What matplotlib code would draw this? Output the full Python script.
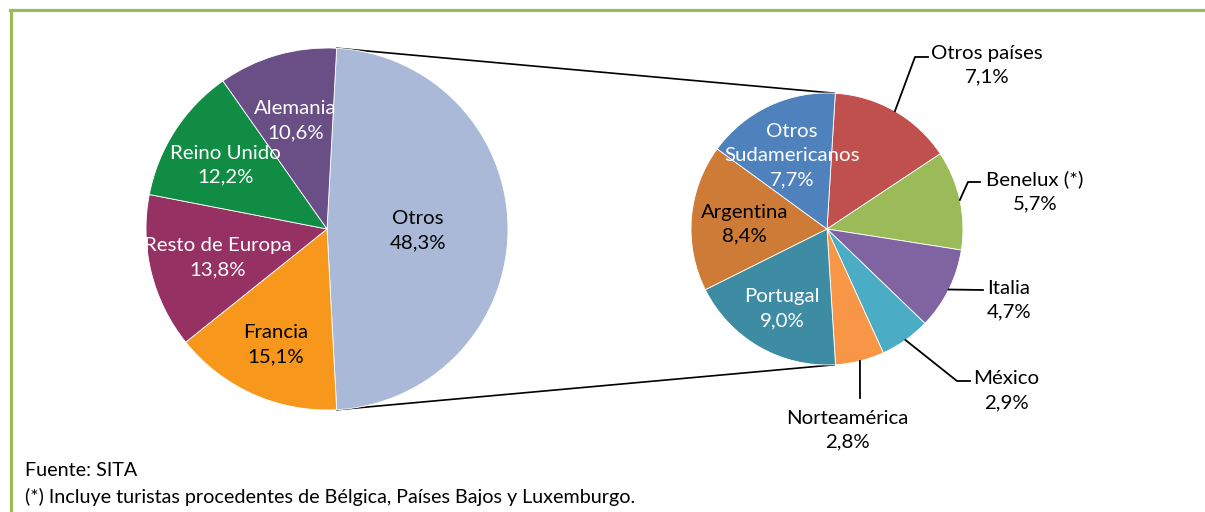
import numpy as np
import matplotlib.pyplot as plt
from matplotlib.lines import Line2D

plt.rcParams['font.family'] = ['Lato', 'DejaVu Sans']

# Left pie: total
left_labels = ['Otros', 'Francia', 'Resto de Europa', 'Reino Unido', 'Alemania']
left_values = [48.3, 15.1, 13.8, 12.2, 10.6]
left_colors = ['#A9B9D7', '#F7981D', '#953163', '#118C44', '#6A4F87']
left_text = ['black', 'black', 'white', 'white', 'white']

# Right pie: breakdown of "Otros"
right_labels = ['Otros países', 'Benelux (*)', 'Italia', 'México', 'Norteamérica',
                'Portugal', 'Argentina', 'Otros\nSudamericanos']
right_values = [7.1, 5.7, 4.7, 2.9, 2.8, 9.0, 8.4, 7.7]
right_colors = ['#C0504D', '#9BBB59', '#8064A2', '#4BACC6', '#F79646',
                '#3E8BA4', '#CD7B37', '#4F81BD']

W, H = 1205, 512
FS = 14.7
LS = 1.5


def pct(v):
    return f'{v:.1f}'.replace('.', ',') + '%'


def py(y):
    # pixel row (from top) -> data y
    return H - y


fig = plt.figure(figsize=(W / 100, H / 100), dpi=100)
ax = fig.add_axes([0, 0, 1, 1])

lc, lr = (327, py(229)), 181
rc, rr = (827, py(229)), 136
wp = dict(edgecolor='white', linewidth=0.6)

wl, _ = ax.pie(left_values, colors=left_colors, startangle=86.94, counterclock=False,
               center=lc, radius=lr, wedgeprops=wp)
wr, _ = ax.pie(right_values, colors=right_colors, startangle=86.5, counterclock=False,
               center=rc, radius=rr, wedgeprops=wp)

ax.set_xlim(0, W)
ax.set_ylim(0, H)
ax.set_aspect('equal')
ax.axis('off')


def point(c, r, ang):
    a = np.deg2rad(ang)
    return c[0] + r * np.cos(a), c[1] + r * np.sin(a)


# inside labels on the left pie
left_frac = [0.50, 0.69, 0.62, 0.67, 0.635]
for w, lab, v, col, f in zip(wl, left_labels, left_values, left_text, left_frac):
    mid = (w.theta1 + w.theta2) / 2
    x, y = point(lc, lr * f, mid)
    ax.text(x, y - 2, f'{lab}\n{pct(v)}', ha='center', va='center', color=col,
            fontsize=FS, linespacing=LS)

# connector lines between the pies
t_top, t_bot = wl[0].theta2, wl[0].theta1
for t in (t_top, t_bot):
    p1 = point(lc, lr, t)
    p2 = point(rc, rr, t)
    ax.plot([p1[0], p2[0]], [p1[1], p2[1]], color='black', lw=1.2, zorder=0.5)

# right pie labels
inside = {5: ('white', 0.66), 6: ('black', 0.61), 7: ('white', 0.61)}
outside = {
    0: ((987, 65), [(915, 57), (928, 57)]),
    1: ((1035, 191), [(968, 182), (980, 182)]),
    2: ((1009, 300), [(983, 290)]),
    3: ((1006, 391), [(957, 381), (970, 381)]),
    4: ((847, 430), [(860, 398)]),
}
for i, (w, lab, v) in enumerate(zip(wr, right_labels, right_values)):
    mid = (w.theta1 + w.theta2) / 2
    if i in inside:
        col, f = inside[i]
        x, y = point(rc, rr * f, mid)
        ax.text(x, y - 2, f'{lab}\n{pct(v)}', ha='center', va='center', color=col,
                fontsize=FS, linespacing=LS)
    else:
        (tx, ty), pts = outside[i]
        ex, ey = point(rc, rr, mid)
        xs = [ex] + [p[0] for p in pts]
        ys = [ey] + [py(p[1]) for p in pts]
        ax.plot(xs, ys, color='black', lw=1.3)
        ax.text(tx, py(ty), f'{lab}\n{pct(v)}', ha='center', va='center', color='black',
                fontsize=FS, linespacing=LS)

# footnotes
ax.text(25, py(471), 'Fuente: SITA', ha='left', va='center', fontsize=14.2)
ax.text(25, py(497), '(*) Incluye turistas procedentes de Bélgica, Países Bajos y Luxemburgo.',
        ha='left', va='center', fontsize=14.2)

# green frame (top and left)
green = '#9BBB59'
fig.add_artist(Line2D([10 / W, 1], [1 - 9.5 / H, 1 - 9.5 / H], color=green, lw=2.3))
fig.add_artist(Line2D([11 / W, 11 / W], [0, 1 - 9.5 / H], color=green, lw=2.3))

fig.savefig('out.png', dpi=100)
